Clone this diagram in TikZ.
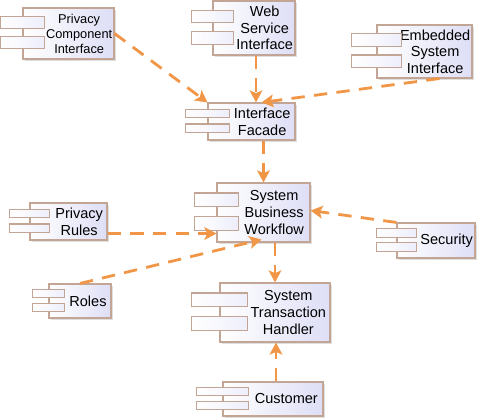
\documentclass[tikz,border=0pt]{standalone}
\usepackage{fontspec}
\setmainfont{Liberation Sans}
\usetikzlibrary{arrows.meta,calc,shadows}

\definecolor{boxline}{RGB}{195,165,150}
\definecolor{boxfill}{RGB}{222,222,246}
\definecolor{tabfill}{RGB}{238,238,252}
\definecolor{flow}{RGB}{240,150,70}
\newcommand{\pxu}{0.75pt}

\begin{document}
\begin{tikzpicture}[x=0.75pt,y=-0.75pt,
    comp/.style = {draw=boxline, line width=0.8pt, left color=white, right color=boxfill,
        inner sep=0pt, drop shadow={shadow xshift=1.5pt, shadow yshift=-1.5pt, fill=black!25}},
    lbl/.style = {align=center, inner sep=0pt, font=\fontsize{10.9}{12.5}\selectfont},
    tab/.style = {draw=boxline, line width=0.8pt, left color=white, right color=tabfill},
    dep/.style = {draw=flow, line width=2.1pt, dash pattern=on 10pt off 7pt,
        -{Stealth[length=9pt,width=9.5pt,inset=2pt]}}]
\useasboundingbox (0,0) rectangle (480,420);

% components
\node[comp, minimum width=91*\pxu, minimum height=51*\pxu,
      label={[lbl, xshift=8pt, font=\fontsize{9.6}{11.25}\selectfont]center:Privacy\\Component\\Interface}] (pci) at (68.5,33.5) {};
\node[comp, minimum width=82*\pxu, minimum height=54*\pxu,
      label={[lbl, xshift=8pt]center:Web\\Service\\Interface}] (wsi) at (254,28) {};
\node[comp, minimum width=95*\pxu, minimum height=53*\pxu,
      label={[lbl, xshift=8pt]center:Embedded\\System\\Interface}] (esi) at (424.5,51.5) {};
\node[comp, minimum width=87*\pxu, minimum height=37*\pxu,
      label={[lbl, xshift=8pt]center:Interface\\Facade}] (ifc) at (251.5,121.5) {};
\node[comp, minimum width=93*\pxu, minimum height=59*\pxu,
      label={[lbl, xshift=8pt]center:System\\Business\\Workflow}] (sbw) at (263.5,212.5) {};
\node[comp, minimum width=77*\pxu, minimum height=37*\pxu,
      label={[lbl, xshift=8pt]center:Privacy\\Rules}] (prr) at (68.5,221.5) {};
\node[comp, minimum width=78*\pxu, minimum height=35*\pxu,
      label={[lbl, xshift=8pt]center:Security}] (sec) at (436,240.5) {};
\node[comp, minimum width=62*\pxu, minimum height=34*\pxu,
      label={[lbl, xshift=6pt]center:Roles}] (rol) at (80,301) {};
\node[comp, minimum width=110*\pxu, minimum height=59*\pxu,
      label={[lbl, xshift=10pt]center:System\\Transaction\\Handler}] (sth) at (275,312.5) {};
\node[comp, minimum width=100*\pxu, minimum height=34*\pxu,
      label={[lbl, xshift=10pt]center:Customer}] (cus) at (273,399) {};

% the two little tabs of each component
\foreach \n/\w in {pci/22,wsi/21,esi/25,ifc/22,sbw/22,prr/20,sec/20,rol/16,sth/28,cus/26} {
    \draw[tab] ($(\n.north west)!.175!(\n.south west) + (-\w,0)$) rectangle ($(\n.north west)!.405!(\n.south west) + (\w,0)$);
    \draw[tab] ($(\n.north west)!.565!(\n.south west) + (-\w,0)$) rectangle ($(\n.north west)!.795!(\n.south west) + (\w,0)$);
}

% dependencies
\draw[dep] (pci.east) -- (ifc.north west);
\draw[dep] ($(wsi.south)+(2,0)$) -- ($(wsi.south |- ifc.north)+(2,0)$);
\draw[dep] ($(esi.south)+(15,0)$) -- ($(ifc.north)+(10,0)$);
\draw[dep] (sbw.north |- ifc.south) -- (sbw.north);
\draw[dep] ($(prr.south east)+(0,-7)$) -- ($(sbw.west |- prr.south)+(0,-7)$);
\draw[dep] (rol.north) -- ($(sbw.south)+(-2,-3)$);
\draw[dep] (sec.north west) -- ($(sbw.east)+(0,-2)$);
\draw[dep] (sth.north |- sbw.south) -- (sth.north);
\draw[dep] ($(cus.north)+(3,0)$) -- ($(cus.north |- sth.south)+(3,0)$);
\end{tikzpicture}
\end{document}
